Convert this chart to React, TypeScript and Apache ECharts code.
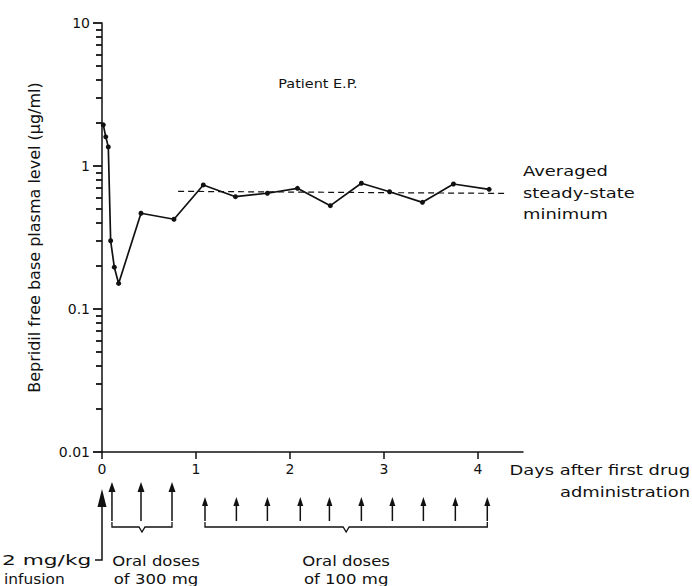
import React, { useEffect, useRef } from "react";
import * as echarts from "echarts";

// ---- data ----
const days = [0.014, 0.04, 0.067, 0.092, 0.131, 0.177, 0.415, 0.766, 1.078, 1.42, 1.76, 2.08, 2.43, 2.76, 3.06, 3.41, 3.74, 4.12];
const levels = [1.94, 1.6, 1.36, 0.3, 0.196, 0.151, 0.467, 0.424, 0.737, 0.61, 0.645, 0.698, 0.528, 0.757, 0.661, 0.557, 0.748, 0.687];
const avgDays = [0.81, 4.32];
const avgLevels = [0.665, 0.643];
const yTickValues = [0.01, 0.1, 1, 10];
const xTickValues = [0, 1, 2, 3, 4];
const infusionDays = [0];
const dose300Days = [0.106, 0.415, 0.745];
const dose100Days = [1.096, 1.43, 1.76, 2.11, 2.42, 2.76, 3.09, 3.42, 3.76, 4.1];
const doseGroupLabels = [["Oral doses", "of 300 mg"], ["Oral doses", "of 100 mg"]];
const infusionLabel = ["2 mg/kg", "infusion"];
const yName = "Bepridil free base plasma level (µg/ml)";
const xName = ["Days after first drug", "administration"];
const patientLabel = "Patient E.P.";
const avgLabel = ["Averaged", "steady-state", "minimum"];

const FONT = "DejaVu Sans";
const INK = "#111111";
const SX = 1.28; // horizontal stretch to mimic the wide, spaced typeface

// log minor ticks 2..9 in each decade
const minorTicks: number[] = [];
for (let k = 0; k < yTickValues.length - 1; k++) {
  for (let m = 2; m <= 9; m++) minorTicks.push(Number((yTickValues[k] * m).toPrecision(3)));
}

const txt = (text: string, x: number, y: number, size: number, align: string, sx = SX) => ({
  type: "text",
  x,
  y,
  scaleX: sx,
  silent: true,
  style: { text, fill: INK, font: `${size}px '${FONT}'`, align, verticalAlign: "middle" },
});

export default function App() {
  const ref = useRef<HTMLDivElement>(null);
  useEffect(() => {
    if (!ref.current) return;
    const chart = echarts.init(ref.current, null, { renderer: "svg" });
    const yMin = yTickValues[0];

    const arrowData = [
      ...infusionDays.map((d) => [d, 0]),
      ...dose300Days.map((d) => [d, 1]),
      ...dose100Days.map((d) => [d, 2]),
    ];
    const groups = [dose300Days, dose100Days];
    const bracketData = groups.map((g, i) => [Math.min(...g), Math.max(...g), i]);

    const textGraphics = [
      txt(patientLabel, 318, 84, 12, "center", 1.2),
      txt(avgLabel[0], 523, 171, 14, "left"),
      txt(avgLabel[1], 523, 193, 14, "left"),
      txt(avgLabel[2], 523, 214, 14, "left"),
      txt(xName[0], 690, 470, 14, "right"),
      txt(xName[1], 690, 492, 14, "right"),
      txt(infusionLabel[0], 2, 560, 14, "left", 1.55),
      txt(infusionLabel[1], 4, 579, 14, "left", 1.1),
    ];

    const option: any = {
      animation: false,
      grid: { left: 102, right: 169, top: 23, bottom: 134 },
      xAxis: {
        type: "value",
        min: 0,
        max: 4.48,
        interval: 1,
        axisLine: { show: true, lineStyle: { color: INK, width: 1.5 } },
        axisTick: { show: true, length: 7, customValues: xTickValues, lineStyle: { color: INK, width: 1.5 } },
        axisLabel: { customValues: xTickValues, color: INK, fontSize: 14, fontFamily: FONT, margin: 10 },
        splitLine: { show: false },
      },
      yAxis: [
        {
          type: "log",
          min: 0.01,
          max: 10,
          name: yName,
          nameLocation: "middle",
          nameRotate: 90,
          nameGap: 60,
          nameTextStyle: { color: INK, fontSize: 16, fontFamily: FONT },
          axisLine: { show: true, lineStyle: { color: INK, width: 1.5 } },
          axisTick: { show: true, length: 9, lineStyle: { color: INK, width: 1.8 } },
          axisLabel: { color: INK, fontSize: 14, fontFamily: FONT, margin: 12 },
          splitLine: { show: false },
        },
        {
          // second, label-less copy of the log axis that carries the 2..9 minor ticks
          type: "log",
          min: 0.01,
          max: 10,
          position: "left",
          axisLine: { show: false },
          axisLabel: { show: false },
          splitLine: { show: false },
          axisTick: { show: true, length: 6, customValues: minorTicks, lineStyle: { color: INK, width: 1.8 } },
        },
      ],
      series: [
        {
          type: "line",
          data: days.map((d, i) => [d, levels[i]]),
          symbol: "circle",
          symbolSize: 5,
          itemStyle: { color: INK },
          lineStyle: { color: INK, width: 1.7 },
          z: 5,
        },
        {
          type: "line",
          data: avgDays.map((d, i) => [d, avgLevels[i]]),
          symbol: "none",
          lineStyle: { color: INK, width: 1.2, type: [6, 4] },
          z: 4,
        },
        {
          // dose arrows below the axis
          type: "custom",
          data: arrowData,
          silent: true,
          clip: false,
          renderItem: (params: any, api: any) => {
            const kind = api.value(1);
            const p = api.coord([api.value(0), yMin]);
            const x = p[0];
            const y0 = p[1];
            if (kind === 0) {
              return {
                type: "group",
                children: [
                  { type: "polyline", shape: { points: [[x, y0 + 50], [x, y0 + 108], [x - 7, y0 + 108]] }, style: { stroke: INK, lineWidth: 1.5, fill: null } },
                  { type: "polygon", shape: { points: [[x, y0 + 37], [x - 4.5, y0 + 55], [x + 4.5, y0 + 55]] }, style: { fill: INK } },
                ],
              };
            }
            const tip = kind === 1 ? 30 : 45;
            const hh = kind === 1 ? 10 : 9;
            const hw = kind === 1 ? 3.5 : 3;
            return {
              type: "group",
              children: [
                { type: "line", shape: { x1: x, y1: y0 + tip + hh - 2, x2: x, y2: y0 + 69 }, style: { stroke: INK, lineWidth: 1.5 } },
                { type: "polygon", shape: { points: [[x, y0 + tip], [x - hw, y0 + tip + hh], [x + hw, y0 + tip + hh]] }, style: { fill: INK } },
              ],
            };
          },
        },
        {
          // brackets and group labels
          type: "custom",
          data: bracketData,
          silent: true,
          clip: false,
          renderItem: (params: any, api: any) => {
            const a = api.coord([api.value(0), yMin]);
            const b = api.coord([api.value(1), yMin]);
            const y0 = a[1];
            const m = (a[0] + b[0]) / 2;
            const yb = y0 + 75;
            const lab = doseGroupLabels[api.value(2)];
            const tx = m + (api.value(2) === 0 ? 14 : 0);
            return {
              type: "group",
              children: [
                {
                  type: "polyline",
                  shape: { points: [[a[0], yb - 5], [a[0], yb], [m - 3, yb], [m, yb + 5], [m + 3, yb], [b[0], yb], [b[0], yb - 5]] },
                  style: { stroke: INK, lineWidth: 1.3, fill: null },
                },
                txt(lab[0], tx, y0 + 109, 14, "center", 1.18),
                txt(lab[1], tx, y0 + 127, 14, "center", 1.18),
              ],
            };
          },
        },
      ],
      graphic: textGraphics,
    };
    chart.setOption(option);
    return () => chart.dispose();
  }, []);
  return <div ref={ref} style={{ position: "absolute", left: 0, top: 0, width: 692, height: 586, background: "#fff" }} />;
}
